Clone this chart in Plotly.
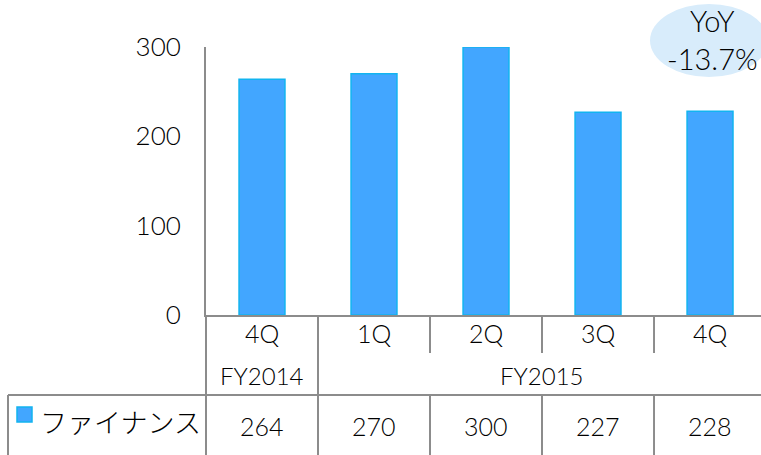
import plotly.graph_objects as go

quarters = ["4Q", "1Q", "2Q", "3Q", "4Q"]
fiscal_years = ["FY2014", "FY2015"]
fy_spans = [[0], [1, 2, 3, 4]]
series_name = "ファイナンス"
values = [264, 270, 300, 227, 228]
yoy_text = "YoY<br>-13.7%"
y_ticks = [0, 100, 200, 300]

W, H = 761, 455
L, T, B = 206, 47, 140
PW, PH = W - L, H - T - B  # 555 x 268

def px(x):
    return (x - L) / PW

def py(y):
    return (T + PH - y) / PH

FONT = "Century Gothic, Lato, Noto Sans CJK JP, sans-serif"
GRAY = "#8c8c8c"
BAR = "#42a6ff"
EDGE = "#12b4f0"
TXT = "#000000"
WEIGHT = 300

idx = list(range(len(values)))
fig = go.Figure(go.Bar(x=idx, y=values, width=0.41,
                       marker=dict(color=BAR, line=dict(color=EDGE, width=1.5)),
                       hoverinfo="skip"))

shapes = []
def line(x0, y0, x1, y1, xref="paper"):
    shapes.append(dict(type="line", xref=xref, yref="paper", x0=x0, y0=y0, x1=x1, y1=y1,
                       line=dict(color=GRAY, width=2)))

row1 = py(353)
row2 = py(395)
bottom = py(460)
# table lines
line(px(8), row2, 1.02, row2)
line(px(8), row2, px(8), bottom)
line(0, 0, 0, bottom)
line(0.5, 0, 0.5, bottom, xref="x")
for k in [1.5, 2.5, 3.5]:
    line(k, 0, k, row1, xref="x")
    line(k, row2, k, bottom, xref="x")

# legend square
shapes.append(dict(type="rect", xref="paper", yref="paper", x0=px(17), x1=px(32),
                   y0=py(422), y1=py(407), fillcolor=BAR, line=dict(color=EDGE, width=1.5)))
# YoY ellipse
shapes.append(dict(type="circle", xref="paper", yref="paper", x0=px(650), x1=px(768),
                   y0=py(77), y1=py(4), fillcolor="#d8ecfb", line=dict(width=0), layer="below"))

ann = []
def text(x, y, s, size, xref="x", xanchor="center", family=FONT):
    ann.append(dict(x=x, y=y, xref=xref, yref="paper", text=s, showarrow=False,
                    xanchor=xanchor, yanchor="middle",
                    font=dict(size=size, color=TXT, family=family, weight=WEIGHT)))

for i, q in enumerate(quarters):
    text(i, py(333), q, 25)
    text(i, py(426), str(values[i]), 25)
for fy, span in zip(fiscal_years, fy_spans):
    text(sum(span) / len(span), py(375), fy, 24)
text(px(38), py(421), series_name, 27, xref="paper", xanchor="left", family="Noto Sans CJK JP")
text(px(712), py(40), yoy_text, 29, xref="paper")

fig.update_layout(
    width=W, height=H, margin=dict(l=L, r=0, t=T, b=B, autoexpand=False),
    paper_bgcolor="white", plot_bgcolor="white", showlegend=False,
    shapes=shapes, annotations=ann,
    xaxis=dict(range=[-0.5, 4.455], showticklabels=False, showgrid=False, zeroline=False,
               showline=True, linecolor=GRAY, linewidth=2, fixedrange=True, automargin=False),
    yaxis=dict(range=[0, 300], tickvals=y_ticks, showgrid=False, zeroline=False,
               showline=True, linecolor=GRAY, linewidth=2, ticks="",
               ticklabelstandoff=18, automargin=False,
               tickfont=dict(size=26, color=TXT, family=FONT, weight=WEIGHT), fixedrange=True),
)
fig.write_html("out.html", config={"displayModeBar": False},
               post_script="document.body.style.margin='0';document.body.style.overflow='hidden';")
